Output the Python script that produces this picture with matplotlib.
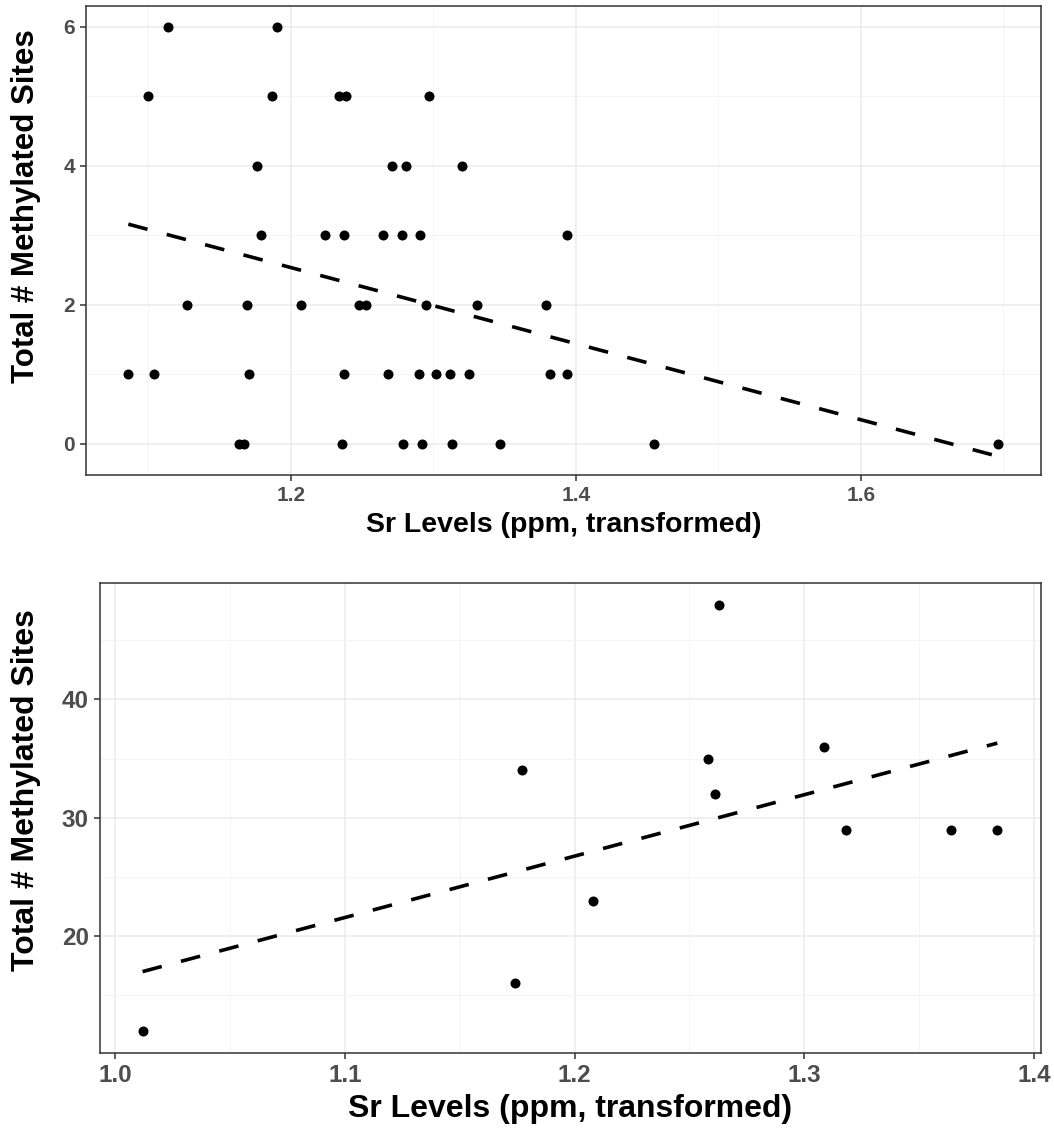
import numpy as np
import matplotlib.pyplot as plt
from matplotlib.ticker import MultipleLocator

plt.rcParams['font.family'] = ['Liberation Sans', 'DejaVu Sans']

# top panel: Sr vs total methylated sites
top_sr = [1.114, 1.190,
          1.100, 1.187, 1.234, 1.239, 1.297,
          1.176, 1.271, 1.281, 1.320,
          1.179, 1.224, 1.237, 1.265, 1.278, 1.291, 1.394,
          1.127, 1.169, 1.207, 1.248, 1.253, 1.295, 1.331, 1.379,
          1.086, 1.104, 1.171, 1.237, 1.268, 1.290, 1.302, 1.312, 1.325, 1.382, 1.394,
          1.164, 1.167, 1.236, 1.279, 1.292, 1.313, 1.347, 1.455, 1.696]
top_sites = [6, 6,
             5, 5, 5, 5, 5,
             4, 4, 4, 4,
             3, 3, 3, 3, 3, 3, 3,
             2, 2, 2, 2, 2, 2, 2, 2,
             1, 1, 1, 1, 1, 1, 1, 1, 1, 1, 1,
             0, 0, 0, 0, 0, 0, 0, 0, 0]
top_fit_x = [1.086, 1.696]
top_fit_y = [3.16, -0.18]

# bottom panel
bot_sr = [1.012, 1.177, 1.174, 1.263, 1.258, 1.261, 1.3085, 1.318, 1.364, 1.384, 1.208]
bot_sites = [12, 34, 16, 48, 35, 32, 36, 29, 29, 29, 23]
bot_fit_x = [1.012, 1.384]
bot_fit_y = [17.0, 36.3]

xlabel = "Sr Levels (ppm, transformed)"
ylabel = "Total # Methylated Sites"

fig = plt.figure(figsize=(10.54, 11.35), dpi=100)
ax1 = fig.add_axes([0.0816, 0.5815, 0.9877 - 0.0816, 0.9947 - 0.5815])
ax2 = fig.add_axes([0.0949, 0.0725, 0.9877 - 0.0949, 0.4861 - 0.0725])


def style_panel(ax, xmaj, xmin, ymaj, ymin, tsize, xlsize, ylsize):
    ax.xaxis.set_major_locator(MultipleLocator(xmaj))
    ax.xaxis.set_minor_locator(MultipleLocator(xmin))
    ax.yaxis.set_major_locator(MultipleLocator(ymaj))
    ax.yaxis.set_minor_locator(MultipleLocator(ymin))
    ax.grid(True, which='major', color='#EBEBEB', linewidth=1.1, zorder=0)
    ax.grid(True, which='minor', color='#F2F2F2', linewidth=0.6, zorder=0)
    ax.set_axisbelow(True)
    for s in ax.spines.values():
        s.set_color('#333333')
        s.set_linewidth(1.1)
    ax.tick_params(which='major', length=4, width=1.1, color='#333333',
                   labelsize=tsize, labelcolor='#4D4D4D', pad=4)
    ax.tick_params(which='minor', length=0)
    ax.set_xlabel(xlabel, fontsize=xlsize, fontweight='bold', color='black', labelpad=5)
    ax.set_ylabel(ylabel, fontsize=ylsize, fontweight='bold', color='black')


for ax, xs, ys, fx, fy in [(ax1, top_sr, top_sites, top_fit_x, top_fit_y),
                           (ax2, bot_sr, bot_sites, bot_fit_x, bot_fit_y)]:
    ax.scatter(xs, ys, s=52, color='black', zorder=3, linewidths=0)
    ln, = ax.plot(fx, fy, color='black', linewidth=2.6, zorder=2)
    ln.set_dashes((5.5, 5.5))

ax1.set_xlim(1.0563, 1.7265)
ax1.set_ylim(-0.45, 6.3)
style_panel(ax1, 0.2, 0.1, 2, 1, 15, 20.5, 22.5)
ax1.set_xticks([1.2, 1.4, 1.6])
ax1.yaxis.set_label_coords(-0.047, 0.574)

ax2.set_xlim(0.9935, 1.403)
ax2.set_ylim(10.15, 49.8)
style_panel(ax2, 0.1, 0.05, 10, 5, 17.5, 23, 23)
ax2.set_xticks([1.0, 1.1, 1.2, 1.3, 1.4])
ax2.set_yticks([20, 30, 40])
ax2.yaxis.set_label_coords(-0.063, 0.56)

for ax in (ax1, ax2):
    for lab in ax.get_xticklabels() + ax.get_yticklabels():
        lab.set_fontweight('bold')

fig.savefig('out.png', dpi=100)
